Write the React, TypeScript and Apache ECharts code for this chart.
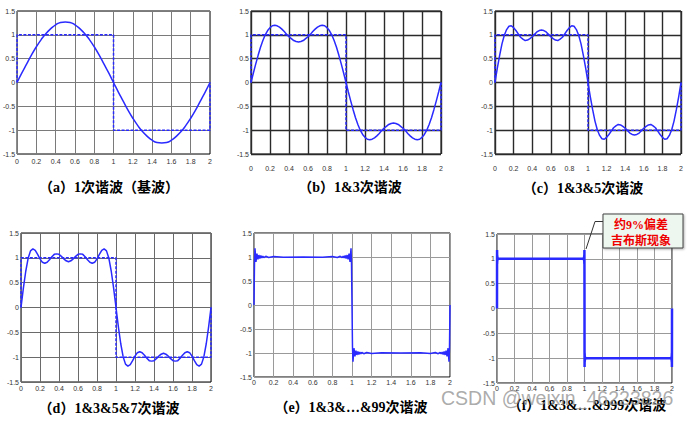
import React, { useEffect, useRef } from "react";
import * as echarts from "echarts";

// ---------- data ----------
const T_COARSE = [0, 0.05, 0.1, 0.15, 0.2, 0.25, 0.3, 0.35, 0.4, 0.45, 0.5, 0.55, 0.6, 0.65, 0.7, 0.75, 0.8, 0.85, 0.9, 0.95, 1, 1.05, 1.1, 1.15, 1.2, 1.25, 1.3, 1.35, 1.4, 1.45, 1.5, 1.55, 1.6, 1.65, 1.7, 1.75, 1.8, 1.85, 1.9, 1.95, 2];
const T_FINE = [0, 0.025, 0.05, 0.075, 0.1, 0.125, 0.15, 0.175, 0.2, 0.225, 0.25, 0.275, 0.3, 0.325, 0.35, 0.375, 0.4, 0.425, 0.45, 0.475, 0.5, 0.525, 0.55, 0.575, 0.6, 0.625, 0.65, 0.675, 0.7, 0.725, 0.75, 0.775, 0.8, 0.825, 0.85, 0.875, 0.9, 0.925, 0.95, 0.975, 1, 1.025, 1.05, 1.075, 1.1, 1.125, 1.15, 1.175, 1.2, 1.225, 1.25, 1.275, 1.3, 1.325, 1.35, 1.375, 1.4, 1.425, 1.45, 1.475, 1.5, 1.525, 1.55, 1.575, 1.6, 1.625, 1.65, 1.675, 1.7, 1.725, 1.75, 1.775, 1.8, 1.825, 1.85, 1.875, 1.9, 1.925, 1.95, 1.975, 2];

const H1_VALUES = [0, 0.2, 0.39, 0.58, 0.75, 0.9, 1.03, 1.13, 1.21, 1.26, 1.27, 1.26, 1.21, 1.13, 1.03, 0.9, 0.75, 0.58, 0.39, 0.2, 0, -0.2, -0.39, -0.58, -0.75, -0.9, -1.03, -1.13, -1.21, -1.26, -1.27, -1.26, -1.21, -1.13, -1.03, -0.9, -0.75, -0.58, -0.39, -0.2, 0];

const H13_VALUES = [0, 0.2, 0.39, 0.57, 0.74, 0.88, 1.0, 1.09, 1.15, 1.19, 1.2, 1.19, 1.16, 1.12, 1.07, 1.01, 0.96, 0.92, 0.88, 0.86, 0.85, 0.86, 0.88, 0.92, 0.96, 1.01, 1.07, 1.12, 1.16, 1.19, 1.2, 1.19, 1.15, 1.09, 1.0, 0.88, 0.74, 0.57, 0.39, 0.2, 0,
  -0.2, -0.39, -0.57, -0.74, -0.88, -1.0, -1.09, -1.15, -1.19, -1.2, -1.19, -1.16, -1.12, -1.07, -1.01, -0.96, -0.92, -0.88, -0.86, -0.85, -0.86, -0.88, -0.92, -0.96, -1.01, -1.07, -1.12, -1.16, -1.19, -1.2, -1.19, -1.15, -1.09, -1.0, -0.88, -0.74, -0.57, -0.39, -0.2, 0];

const H135_VALUES = [0, 0.3, 0.57, 0.81, 0.99, 1.11, 1.18, 1.19, 1.15, 1.09, 1.02, 0.95, 0.91, 0.88, 0.89, 0.92, 0.96, 1.01, 1.06, 1.09, 1.1, 1.09, 1.06, 1.01, 0.96, 0.92, 0.89, 0.88, 0.91, 0.95, 1.02, 1.09, 1.15, 1.19, 1.18, 1.11, 0.99, 0.81, 0.57, 0.3, 0,
  -0.3, -0.57, -0.81, -0.99, -1.11, -1.18, -1.19, -1.15, -1.09, -1.02, -0.95, -0.91, -0.88, -0.89, -0.92, -0.96, -1.01, -1.06, -1.09, -1.1, -1.09, -1.06, -1.01, -0.96, -0.92, -0.89, -0.88, -0.91, -0.95, -1.02, -1.09, -1.15, -1.19, -1.18, -1.11, -0.99, -0.81, -0.57, -0.3, 0];

const H1357_VALUES = [0, 0.39, 0.73, 0.99, 1.14, 1.18, 1.15, 1.07, 0.98, 0.91, 0.89, 0.91, 0.96, 1.02, 1.07, 1.08, 1.07, 1.03, 0.98, 0.94, 0.92, 0.94, 0.98, 1.03, 1.07, 1.08, 1.07, 1.02, 0.96, 0.91, 0.89, 0.91, 0.98, 1.07, 1.15, 1.18, 1.14, 0.99, 0.73, 0.39, 0,
  -0.39, -0.73, -0.99, -1.14, -1.18, -1.15, -1.07, -0.98, -0.91, -0.89, -0.91, -0.96, -1.02, -1.07, -1.08, -1.07, -1.03, -0.98, -0.94, -0.92, -0.94, -0.98, -1.03, -1.07, -1.08, -1.07, -1.02, -0.96, -0.91, -0.89, -0.91, -0.98, -1.07, -1.15, -1.18, -1.14, -0.99, -0.73, -0.39, 0];

const H99_X = [0, 0.005, 0.01, 0.02, 0.03, 0.04, 0.05, 0.06, 0.07, 0.08, 0.09, 0.1, 0.12, 0.15, 0.2, 0.3, 0.5, 0.7, 0.8, 0.85, 0.88, 0.9, 0.91, 0.92, 0.93, 0.94, 0.95, 0.96, 0.97, 0.98, 0.99, 0.995, 1,
  1.005, 1.01, 1.02, 1.03, 1.04, 1.05, 1.06, 1.07, 1.08, 1.09, 1.1, 1.12, 1.15, 1.2, 1.3, 1.5, 1.7, 1.8, 1.85, 1.88, 1.9, 1.91, 1.92, 1.93, 1.94, 1.95, 1.96, 1.97, 1.98, 1.99, 1.995, 2];
const H99_Y = [0, 0.87, 1.18, 0.9, 1.07, 0.95, 1.04, 0.97, 1.03, 0.98, 1.02, 0.985, 1.015, 0.99, 1.01, 0.995, 1.0, 0.995, 1.01, 0.99, 1.015, 0.985, 1.02, 0.98, 1.03, 0.97, 1.04, 0.95, 1.07, 0.9, 1.18, 0.87, 0,
  -0.87, -1.18, -0.9, -1.07, -0.95, -1.04, -0.97, -1.03, -0.98, -1.02, -0.985, -1.015, -0.99, -1.01, -0.995, -1.0, -0.995, -1.01, -0.99, -1.015, -0.985, -1.02, -0.98, -1.03, -0.97, -1.04, -0.95, -1.07, -0.9, -1.18, -0.87, 0];

const H999_X = [0, 0.0005, 0.001, 0.002, 0.003, 0.004, 0.005, 0.007, 0.5, 0.993, 0.995, 0.996, 0.997, 0.998, 0.999, 0.9995, 1,
  1.0005, 1.001, 1.002, 1.003, 1.004, 1.005, 1.007, 1.5, 1.993, 1.995, 1.996, 1.997, 1.998, 1.999, 1.9995, 2];
const H999_Y = [0, 0.87, 1.18, 0.9, 1.07, 0.95, 1.04, 1.0, 1.0, 1.0, 1.04, 0.95, 1.07, 0.9, 1.18, 0.87, 0,
  -0.87, -1.18, -0.9, -1.07, -0.95, -1.04, -1.0, -1.0, -1.0, -1.04, -0.95, -1.07, -0.9, -1.18, -0.87, 0];

const SQUARE_X = [0, 0, 1, 1, 2, 2];
const SQUARE_Y = [0, 1, 1, -1, -1, 0];

const TITLES = [
  "（a）1次谐波（基波）",
  "（b）1&3次谐波",
  "（c）1&3&5次谐波",
  "（d）1&3&5&7次谐波",
  "（e）1&3&…&99次谐波",
  "（f）1&3&…&999次谐波",
];
const NOTE_LINES = ["约9%偏差", "吉布斯现象"];
const WATERMARK = "CSDN @weixin_46223826";

// ---------- layout / style ----------
const PANELS = [
  { left: 17, top: 11, width: 193, height: 143, grid: "#7a7a7a", gw: 1, xm: 4, shift: false, lw: 1.5, square: true, tx: 109, ty: 187 },
  { left: 251, top: 11, width: 190, height: 143, grid: "#2a2a2a", gw: 1.4, xm: 11, shift: true, lw: 1.5, square: true, tx: 350, ty: 187 },
  { left: 495, top: 11, width: 186, height: 143, grid: "#2a2a2a", gw: 1.4, xm: 11, shift: true, lw: 1.5, square: true, tx: 583, ty: 188 },
  { left: 21, top: 233, width: 190, height: 149, grid: "#6a6a6a", gw: 1, xm: 2.5, shift: false, lw: 1.5, square: true, tx: 109, ty: 408 },
  { left: 254, top: 233, width: 196, height: 144, grid: "#9a9a9a", gw: 1, xm: 2, shift: false, lw: 1.5, square: false, tx: 351, ty: 407 },
  { left: 497, top: 234, width: 175, height: 149, grid: "#9a9a9a", gw: 1, xm: 2, shift: false, lw: 2.5, square: false, tx: 587, ty: 405 },
];

const BLUE = "#2a2aff";

function pairs(xs: number[], ys: number[]) {
  return xs.map((x, i) => [x, ys[i]]);
}

export default function App() {
  const ref = useRef<HTMLDivElement>(null);
  useEffect(() => {
    if (!ref.current) return;
    const chart = echarts.init(ref.current, null, { renderer: "svg" });
    const curves = [
      pairs(T_COARSE, H1_VALUES),
      pairs(T_FINE, H13_VALUES),
      pairs(T_FINE, H135_VALUES),
      pairs(T_FINE, H1357_VALUES),
      pairs(H99_X, H99_Y),
      pairs(H999_X, H999_Y),
    ];
    const grids: any[] = [];
    const xAxes: any[] = [];
    const yAxes: any[] = [];
    const series: any[] = [];
    PANELS.forEach((p, i) => {
      grids.push({
        left: p.left, top: p.top, width: p.width, height: p.height,
        show: true, borderColor: "#000", borderWidth: 1, backgroundColor: "#fff",
      });
      xAxes.push({
        type: "value", gridIndex: i, min: 0, max: 2, interval: 0.2,
        axisLine: { show: false }, axisTick: { show: false },
        splitLine: { show: true, lineStyle: { color: p.grid, width: p.gw } },
        axisLabel: { fontSize: 7, color: "#333", margin: p.xm, fontFamily: "Liberation Sans" },
      });
      yAxes.push({
        type: "value", gridIndex: i, min: -1.5, max: 1.5, interval: 0.5,
        axisLine: { show: false }, axisTick: { show: false },
        splitLine: { show: true, lineStyle: { color: p.grid, width: p.gw } },
        axisLabel: {
          fontSize: 7, color: "#333", margin: 2, fontFamily: "Liberation Sans",
          padding: p.shift ? [18, 0, 0, 0] : 0,
        },
      });
      if (p.square) {
        series.push({
          type: "line", xAxisIndex: i, yAxisIndex: i, showSymbol: false, silent: true,
          data: pairs(SQUARE_X, SQUARE_Y),
          lineStyle: { color: BLUE, width: 1.5, type: [3, 1.5] },
        });
      }
      series.push({
        type: "line", xAxisIndex: i, yAxisIndex: i, showSymbol: false, silent: true,
        smooth: i === 0,
        data: curves[i],
        lineStyle: { color: BLUE, width: p.lw },
      });
    });

    const titleFont = "'Liberation Serif', 'Noto Sans CJK SC', serif";
    const graphics: any[] = PANELS.map((p, i) => ({
      type: "text", x: p.tx, y: p.ty, z: 10,
      style: {
        text: TITLES[i], fill: "#000", fontSize: 14, fontWeight: "bold", fontFamily: titleFont,
        textAlign: "center", align: "center", textVerticalAlign: "middle", verticalAlign: "middle",
      },
    }));
    graphics.push({
      type: "text", x: 441, y: 398, z: 20,
      style: {
        text: WATERMARK, fill: "rgba(150,150,150,0.8)", fontSize: 19.5, fontFamily: "Liberation Sans",
        textAlign: "left", align: "left", textVerticalAlign: "middle", verticalAlign: "middle",
      },
    });
    graphics.push({
      type: "polyline", z: 20,
      shape: { points: [[603, 221.5], [595, 221.5], [586, 249]] },
      style: { stroke: "#333", lineWidth: 1, fill: null },
    });
    graphics.push({
      type: "rect", z: 20,
      shape: { x: 603, y: 214, width: 80, height: 34 },
      style: { fill: "#eef6f0", stroke: "#444", lineWidth: 1, shadowBlur: 2, shadowColor: "rgba(0,0,0,0.3)", shadowOffsetX: 1, shadowOffsetY: 1 },
    });
    NOTE_LINES.forEach((t, k) => {
      graphics.push({
        type: "text", x: 641, y: k === 0 ? 225 : 241, z: 21,
        style: {
          text: t, fill: "#ee0000", fontSize: 12, fontWeight: "bold", fontFamily: titleFont,
          textAlign: "center", align: "center", textVerticalAlign: "middle", verticalAlign: "middle",
        },
      });
    });

    chart.setOption({
      animation: false,
      backgroundColor: "#fff",
      grid: grids,
      xAxis: xAxes,
      yAxis: yAxes,
      series,
      graphic: graphics,
    });
    return () => chart.dispose();
  }, []);
  return (
    <div
      ref={ref}
      style={{ position: "fixed", left: 0, top: 0, width: 690, height: 423, background: "#fff" }}
    />
  );
}
